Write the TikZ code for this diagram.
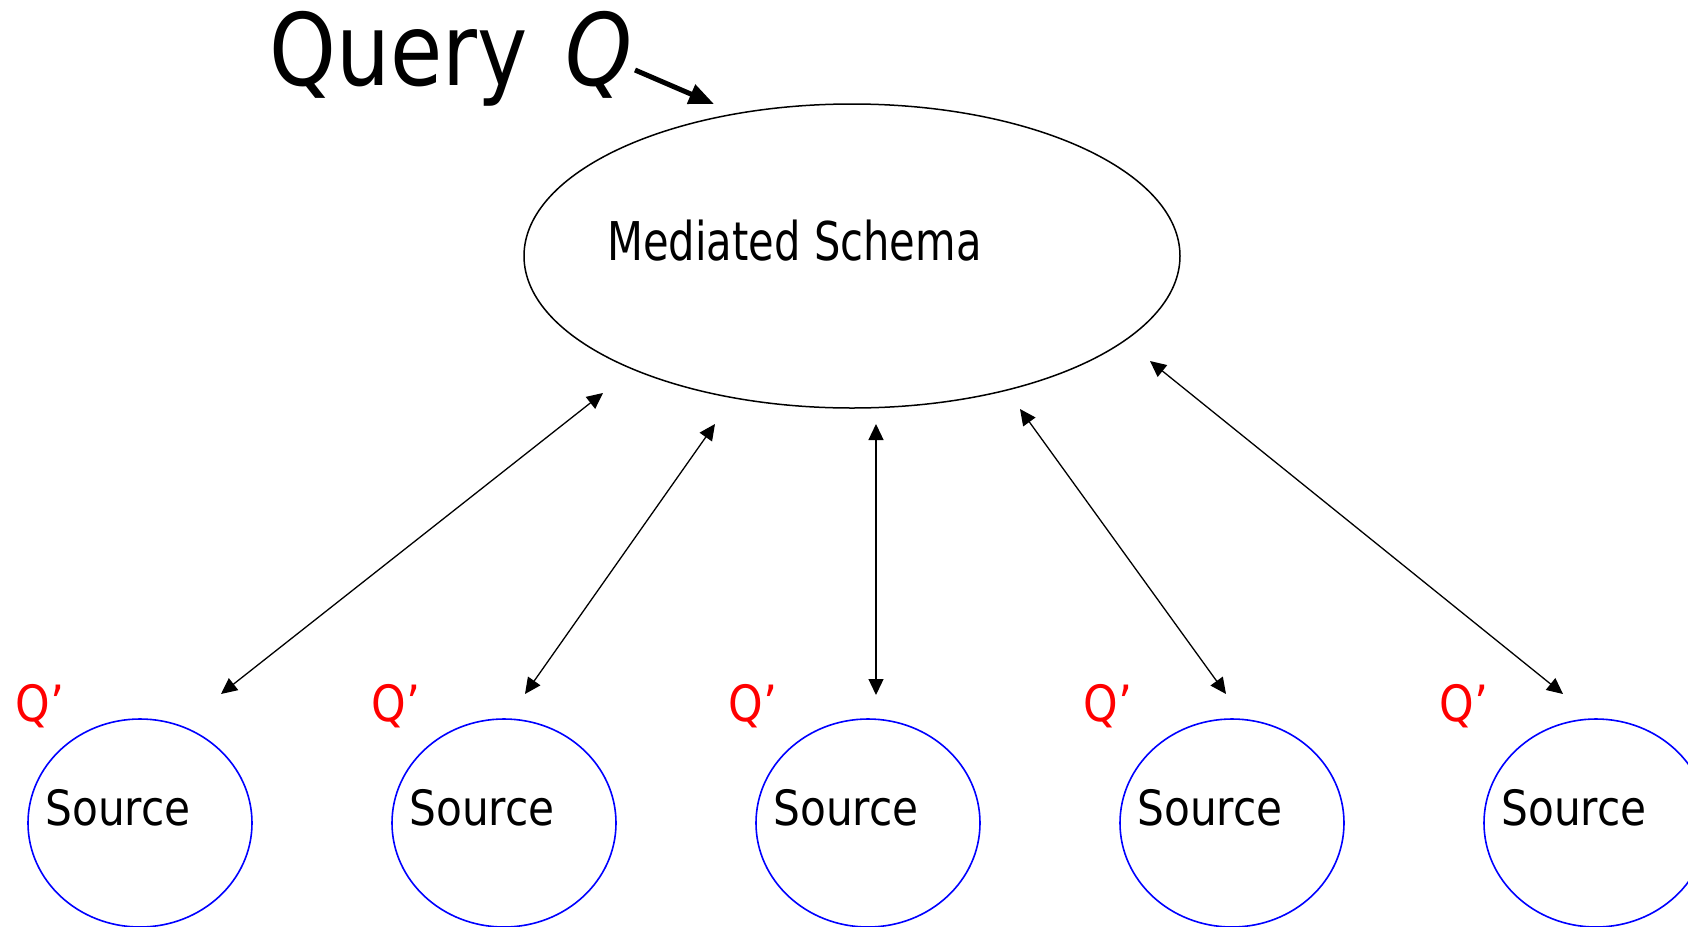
\documentclass[tikz,border=0pt]{standalone}
\usepackage{fontspec}
\setmainfont{DejaVu Sans}
\usetikzlibrary{shapes.geometric,arrows.meta}

\begin{document}
\begin{tikzpicture}[x=0.5pt,y=-0.5pt,
  schema/.style={draw,ellipse,line width=0.75pt,minimum width=328pt,minimum height=152pt,inner sep=0pt},
  srcnode/.style={draw=blue,ellipse,line width=0.8pt,minimum width=112pt,minimum height=104pt,inner sep=0pt},
  srclbl/.style={anchor=base,inner sep=0pt,font=\fontsize{24.3}{28}\selectfont},
  qlbl/.style={anchor=base west,inner sep=0pt,text=red,font=\fontsize{25}{28}\selectfont},
  link/.style={{Triangle[length=8pt,width=7.5pt]}-{Triangle[length=8pt,width=7.5pt]},line width=0.65pt}]
\useasboundingbox (0,0) rectangle (1688,927);

\node[anchor=base west,inner sep=0pt,font=\fontsize{50}{56}\selectfont] (query) at (269,85)
  {\scalebox{0.85}[1]{Query\hspace{0.45em}\textit{Q}}};
\coordinate (qtail) at (635,70);
\coordinate (qhead) at (714,104);
\draw[-{Triangle[length=12.5pt,width=10pt]},line width=2.5pt] (qtail) -- (qhead);

\node[schema] (ms) at (852,256) {};
\node[anchor=base west,inner sep=0pt,font=\fontsize{26.7}{30}\selectfont] (mslbl) at (607,260)
  {\scalebox{0.78}[1]{Mediated Schema}};

\node[srcnode] (s1) at (140,823) {};
\node[srcnode] (s2) at (504,823) {};
\node[srcnode] (s3) at (868,823) {};
\node[srcnode] (s4) at (1232,823) {};
\node[srcnode] (s5) at (1596,823) {};
\node[srclbl] (t1) at (118,825) {\scalebox{0.87}[1]{Source}};
\node[srclbl] (t2) at (482,825) {\scalebox{0.87}[1]{Source}};
\node[srclbl] (t3) at (846,825) {\scalebox{0.87}[1]{Source}};
\node[srclbl] (t4) at (1210,825) {\scalebox{0.87}[1]{Source}};
\node[srclbl] (t5) at (1574,825) {\scalebox{0.87}[1]{Source}};

\node[qlbl] (q1) at (15,721) {\scalebox{0.88}[1]{Q’}};
\node[qlbl] (q2) at (371,721) {\scalebox{0.88}[1]{Q’}};
\node[qlbl] (q3) at (728,721) {\scalebox{0.88}[1]{Q’}};
\node[qlbl] (q4) at (1083,721) {\scalebox{0.88}[1]{Q’}};
\node[qlbl] (q5) at (1439,721) {\scalebox{0.88}[1]{Q’}};

\coordinate (a1) at (221,694);  \coordinate (b1) at (603,393);
\coordinate (a2) at (525,694);  \coordinate (b2) at (715,424);
\coordinate (a3) at (876,695);  \coordinate (b3) at (876,424);
\coordinate (a4) at (1226,694); \coordinate (b4) at (1020,409);
\coordinate (a5) at (1563,694); \coordinate (b5) at (1150,361);
\draw[link] (a1) -- (b1);
\draw[link] (a2) -- (b2);
\draw[link] (a3) -- (b3);
\draw[link] (a4) -- (b4);
\draw[link] (a5) -- (b5);
\end{tikzpicture}
\end{document}
